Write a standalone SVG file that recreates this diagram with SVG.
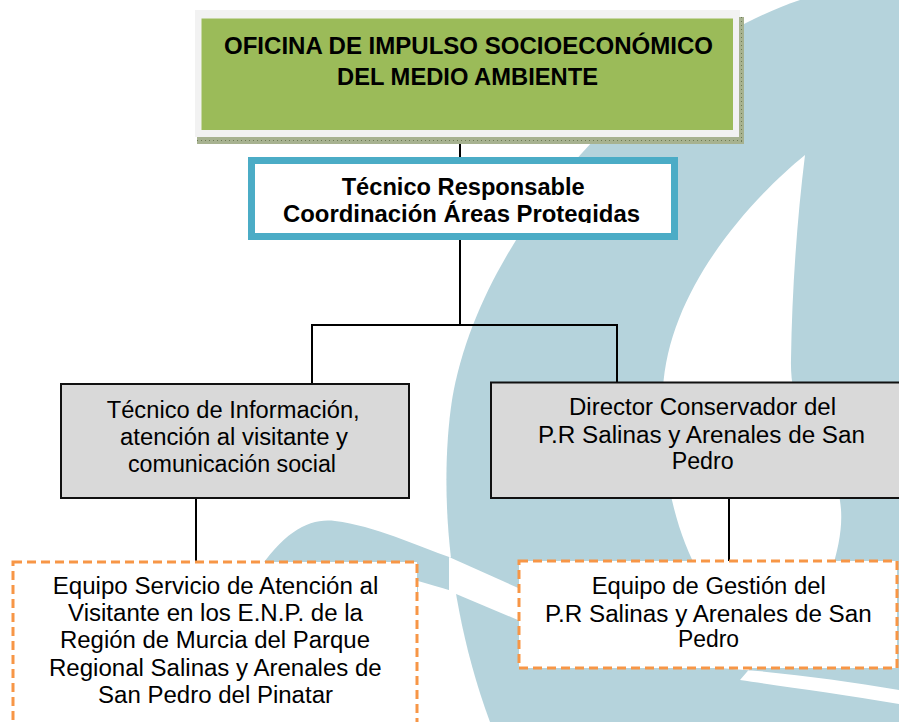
<svg xmlns="http://www.w3.org/2000/svg" width="899" height="722" viewBox="0 0 899 722">
<defs>
<style>
.t{font-family:"Liberation Sans",Arial,sans-serif;font-size:23px;fill:#000}
.b{font-weight:bold}
.conn{stroke:#000;stroke-width:2;fill:none}
.gray{fill:#d9d9d9;stroke:#111;stroke-width:2}
.dash{fill:#fff;stroke:#f79646;stroke-width:3;stroke-dasharray:9 5}
.bg{fill:#b5d3dc}
</style>
<clipPath id="clip2"><rect x="250" y="150" width="430" height="73"/></clipPath>
</defs>
<rect width="899" height="722" fill="#fff"/>
<g id="background">
<path class="bg" d="M800,0 C650,50 480,230 452,400 C440,480 445,600 490,722 L899,722 L899,0 Z"/>
<path fill="#fff" d="M805,155 C750,200 668,290 663,390 C660,470 675,530 700,575 L720,668 C780,672 840,680 899,690 L899,704 C840,694 780,686 740,680 L830,575 C845,530 845,500 830,470 C805,430 790,400 791,360 C792,290 797,220 805,155 Z"/>
<path class="bg" d="M255,575 C285,530 310,518 335,521 C375,526 415,545 452,558 L452,591 C440,587 428,584 418,581 L418,600 L255,600 Z"/>
<path fill="#fff" d="M449,557 L525,591 L525,623 L449,591 Z"/>
</g>
<g id="connectors">
<path class="conn" d="M460,137 V158"/>
<path class="conn" d="M460,237 V325 M312,384 V325 H617 V383"/>
<path class="conn" d="M196,498 V562"/>
<path class="conn" d="M729,498 V561"/>
</g>
<g id="oficina">
<rect x="195" y="10" width="545" height="127" fill="#f2f2f2"/>
<rect x="197" y="137" width="547" height="7" fill="#a7b290"/>
<rect x="739" y="17" width="5" height="127" fill="#a7b290"/>
<path d="M197,140.5 H744 M741.5,17 V144" stroke="#6d7a55" stroke-width="1" stroke-dasharray="1 3" fill="none"/>
<rect x="201.5" y="18.5" width="531.5" height="111.5" fill="#9bbb59"/>
<text class="t b" x="224" y="54" font-size="25" textLength="489" lengthAdjust="spacingAndGlyphs">OFICINA DE IMPULSO SOCIOECONÓMICO</text>
<text class="t b" x="337" y="85" font-size="25" textLength="261" lengthAdjust="spacingAndGlyphs">DEL MEDIO AMBIENTE</text>
</g>
<g id="tecnico-responsable">
<rect x="251.5" y="160.5" width="423" height="76" fill="#fff" stroke="#4bacc6" stroke-width="7"/>
<g clip-path="url(#clip2)">
<text class="t b" x="341.7" y="195" font-size="22" textLength="243" lengthAdjust="spacingAndGlyphs">Técnico Responsable</text>
<text class="t b" x="283" y="221.7" font-size="22" textLength="357" lengthAdjust="spacingAndGlyphs">Coordinación Áreas Protegidas</text>
</g>
</g>
<g id="tecnico-informacion">
<rect class="gray" x="61" y="384" width="348" height="114"/>
<text class="t" x="106.7" y="418.3" textLength="253" lengthAdjust="spacingAndGlyphs">Técnico de Información,</text>
<text class="t" x="120" y="445" textLength="228" lengthAdjust="spacingAndGlyphs">atención al visitante y</text>
<text class="t" x="128" y="471.7" textLength="208" lengthAdjust="spacingAndGlyphs">comunicación social</text>
</g>
<g id="director-conservador">
<rect class="gray" x="491" y="382.5" width="430" height="115.5"/>
<text class="t" x="569" y="415" textLength="267" lengthAdjust="spacingAndGlyphs">Director Conservador del</text>
<text class="t" x="538" y="442.7" textLength="327" lengthAdjust="spacingAndGlyphs">P.R Salinas y Arenales de San</text>
<text class="t" x="671.7" y="469.3" textLength="62" lengthAdjust="spacingAndGlyphs">Pedro</text>
</g>
<g id="equipo-atencion">
<rect class="dash" x="13" y="562" width="404" height="200"/>
<text class="t" x="52.7" y="594" textLength="325.7" lengthAdjust="spacingAndGlyphs">Equipo Servicio de Atención al</text>
<text class="t" x="68" y="621" textLength="295" lengthAdjust="spacingAndGlyphs">Visitante en los E.N.P. de la</text>
<text class="t" x="60" y="648.3" textLength="310" lengthAdjust="spacingAndGlyphs">Región de Murcia del Parque</text>
<text class="t" x="49" y="676" textLength="332.7" lengthAdjust="spacingAndGlyphs">Regional Salinas y Arenales de</text>
<text class="t" x="98" y="703" textLength="235" lengthAdjust="spacingAndGlyphs">San Pedro del Pinatar</text>
</g>
<g id="equipo-gestion">
<rect class="dash" x="519" y="561" width="378" height="107"/>
<text class="t" x="591.7" y="594" textLength="234" lengthAdjust="spacingAndGlyphs">Equipo de Gestión del</text>
<text class="t" x="545" y="621.7" textLength="326.7" lengthAdjust="spacingAndGlyphs">P.R Salinas y Arenales de San</text>
<text class="t" x="678" y="647.3" textLength="61" lengthAdjust="spacingAndGlyphs">Pedro</text>
</g>
</svg>
